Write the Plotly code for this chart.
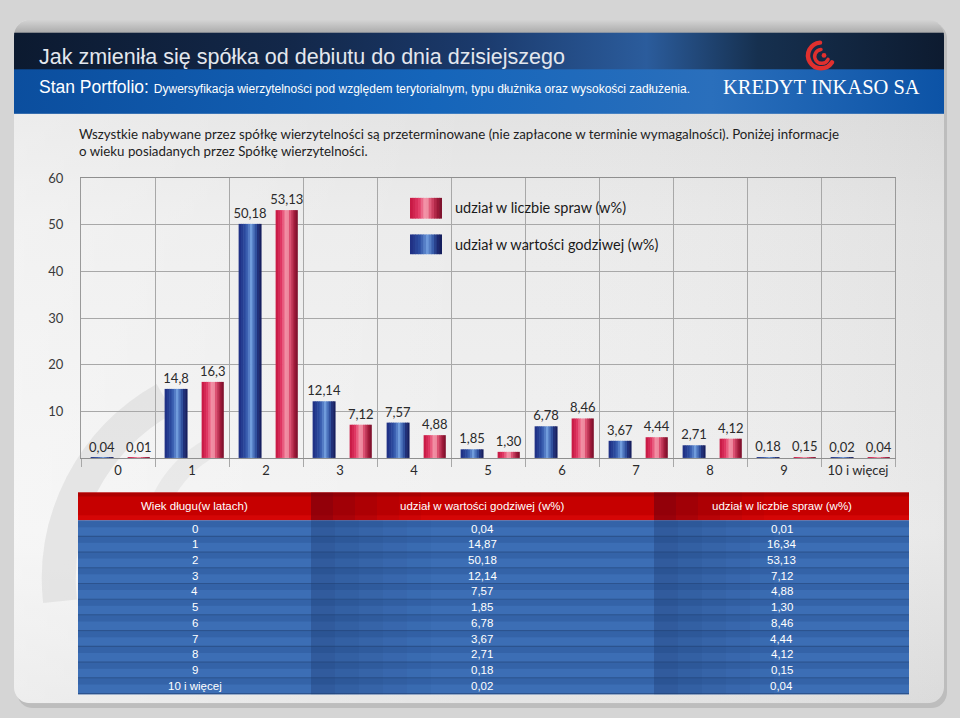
import base64
import plotly.graph_objects as go

# ---------------- data ----------------
categories = ["0", "1", "2", "3", "4", "5", "6", "7", "8", "9", "10 i więcej"]
value_share = [0.04, 14.8, 50.18, 12.14, 7.57, 1.85, 6.78, 3.67, 2.71, 0.18, 0.02]   # udział w wartości godziwej
count_share = [0.01, 16.3, 53.13, 7.12, 4.88, 1.30, 8.46, 4.44, 4.12, 0.15, 0.04]    # udział w liczbie spraw
value_labels = ["0,04", "14,8", "50,18", "12,14", "7,57", "1,85", "6,78", "3,67", "2,71", "0,18", "0,02"]
count_labels = ["0,01", "16,3", "53,13", "7,12", "4,88", "1,30", "8,46", "4,44", "4,12", "0,15", "0,04"]
y_ticks = [10, 20, 30, 40, 50, 60]

legend_names = ["udział w liczbie spraw (w%)", "udział w wartości godziwej (w%)"]

table_header = ["Wiek długu(w latach)", "udział w wartości godziwej (w%)", "udział w liczbie spraw (w%)"]
table_age = ["0", "1", "2", "3", "4", "5", "6", "7", "8", "9", "10 i więcej"]
table_value = ["0,04", "14,87", "50,18", "12,14", "7,57", "1,85", "6,78", "3,67", "2,71", "0,18", "0,02"]
table_count = ["0,01", "16,34", "53,13", "7,12", "4,88", "1,30", "8,46", "4,44", "4,12", "0,15", "0,04"]

title_text = "Jak zmieniła się spółka od debiutu do dnia dzisiejszego"
subtitle_lead = "Stan Portfolio:"
subtitle_rest = "Dywersyfikacja wierzytelności pod względem terytorialnym, typu dłużnika oraz wysokości zadłużenia."
intro_lines = ["Wszystkie nabywane przez spółkę wierzytelności są przeterminowane (nie zapłacone w terminie wymagalności). Poniżej informacje",
               "o wieku posiadanych przez Spółkę wierzytelności."]
brand = "KREDYT INKASO SA"

# ---------------- styling ----------------
W, H = 960, 718
NARROW = "Liberation Sans Narrow, Arial Narrow, Liberation Sans, sans-serif"
SANS = "Lato, Open Sans, sans-serif"


def px(x):
    return x / W


def py(y):
    return 1 - y / H


def hex2rgb(h):
    h = h.lstrip("#")
    return tuple(int(h[i:i + 2], 16) for i in (0, 2, 4))


def interp(stops, t):
    for (t0, c0), (t1, c1) in zip(stops[:-1], stops[1:]):
        if t0 <= t <= t1:
            f = 0 if t1 == t0 else (t - t0) / (t1 - t0)
            a, b = hex2rgb(c0), hex2rgb(c1)
            return "rgb(%d,%d,%d)" % tuple(round(a[i] + (b[i] - a[i]) * f) for i in range(3))
    return stops[-1][1]


blue_stops = [(0, "#1e2c80"), (0.3, "#2c4ea2"), (0.55, "#6f9bdc"), (0.72, "#3559a8"), (0.88, "#1b276e"), (1, "#121a55")]
red_stops = [(0, "#c4143f"), (0.28, "#e23a66"), (0.5, "#f7a7b6"), (0.66, "#d94a6c"), (0.85, "#a01a3a"), (1, "#74102a")]

# ---------------- background (svg) ----------------
svg = f'''<svg xmlns="http://www.w3.org/2000/svg" width="{W}" height="{H}" viewBox="0 0 {W} {H}" preserveAspectRatio="none">
<defs>
<linearGradient id="card" x1="0" y1="0" x2="0" y2="1">
<stop offset="0" stop-color="#dcdcdc"/><stop offset="0.3" stop-color="#ebebeb"/><stop offset="0.75" stop-color="#f2f2f2"/><stop offset="1" stop-color="#e4e4e4"/>
</linearGradient>
<linearGradient id="cardh" x1="0" y1="0" x2="1" y2="0">
<stop offset="0" stop-color="#ffffff" stop-opacity="0.35"/><stop offset="0.5" stop-color="#ffffff" stop-opacity="0"/><stop offset="1" stop-color="#000000" stop-opacity="0.04"/>
</linearGradient>
<linearGradient id="strip" x1="0" y1="0" x2="0" y2="1">
<stop offset="0" stop-color="#d4d4d4"/><stop offset="1" stop-color="#a8a8a8"/>
</linearGradient>
<linearGradient id="navy" x1="0" y1="0" x2="1" y2="0">
<stop offset="0" stop-color="#0c1a30"/><stop offset="0.3" stop-color="#13284a"/><stop offset="0.5" stop-color="#1b3a6c"/><stop offset="0.68" stop-color="#2b5c9c"/><stop offset="0.8" stop-color="#16304f"/><stop offset="1" stop-color="#0d1b30"/>
</linearGradient>
<linearGradient id="blue" x1="0" y1="0" x2="1" y2="0">
<stop offset="0" stop-color="#0b4e9e"/><stop offset="0.45" stop-color="#1565ba"/><stop offset="0.75" stop-color="#2a6fbc"/><stop offset="1" stop-color="#0c53a6"/>
</linearGradient>
<clipPath id="c"><rect x="14" y="12" width="930" height="691" rx="16"/></clipPath>
</defs>
<rect width="{W}" height="{H}" fill="#d5d5d5"/>
<rect x="17" y="15" width="930" height="693" rx="16" fill="#bdbdbd"/>
<g clip-path="url(#c)">
<rect x="14" y="12" width="930" height="691" fill="url(#card)"/>
<rect x="14" y="12" width="930" height="691" fill="url(#cardh)"/>
<path d="M 60 600 A 210 210 0 0 1 165 395" fill="none" stroke="#dadada" stroke-width="34" stroke-opacity="0.6"/>
<path d="M 150 560 A 120 120 0 0 1 220 440" fill="none" stroke="#dddddd" stroke-width="20" stroke-opacity="0.5"/>
<rect x="14" y="12" width="930" height="14" fill="url(#strip)"/>
<rect x="14" y="25" width="930" height="38" fill="url(#navy)"/>
<rect x="14" y="62" width="930" height="45" fill="url(#blue)"/>
</g>
<path d="M 820 35 A 13 13 0 1 0 832 55" fill="none" stroke="#e0302e" stroke-width="4.5" stroke-linecap="round"/>
<path d="M 821 42 A 7 7 0 1 0 828 52" fill="none" stroke="#e0302e" stroke-width="3.5" stroke-linecap="round"/>
<circle cx="824" cy="48" r="2.4" fill="#e0302e"/>
</svg>'''
svg_uri = "data:image/svg+xml;base64," + base64.b64encode(svg.encode("utf-8")).decode("ascii")

fig = go.Figure()

# ---------------- bars (cylindrical look via strips) ----------------
N = 10
series = [
    (value_share, value_labels, -0.37, 0.31, blue_stops),
    (count_share, count_labels, 0.13, 0.30, red_stops),
]
for vals, labels, off, wid, stops in series:
    sw = wid / N
    for i in range(N):
        t = (i + 0.5) / N
        fig.add_trace(go.Bar(
            x=categories, y=vals, offset=off + i * sw, width=sw * (1.25 if i < N - 1 else 1.0),
            marker=dict(color=interp(stops, t), line=dict(width=0)),
            hoverinfo="skip", showlegend=False,
        ))
    fig.add_trace(go.Bar(
        x=categories, y=vals, offset=off, width=wid,
        marker=dict(color="rgba(0,0,0,0)", line=dict(width=0)),
        text=labels, textposition="outside", constraintext="none", cliponaxis=False,
        textfont=dict(family=SANS, size=13, color="#2a2a2a"),
        hoverinfo="skip", showlegend=False,
    ))

shapes = []
annotations = []

# ---------------- table (shapes + text) ----------------
col_edges = [78, 311, 654, 909]
head_top, head_bot = 490, 518
row_top0, row_h = 519, 15.9
n_rows = len(table_age)
body_bot = row_top0 + n_rows * row_h


def rect(x0, y0, x1, y1, color, opacity=1.0, layer="above"):
    shapes.append(dict(type="rect", xref="paper", yref="paper", x0=px(x0), x1=px(x1), y0=py(y1), y1=py(y0),
                       fillcolor=color, opacity=opacity, line=dict(width=0), layer=layer))


# header
rect(col_edges[0], head_top, col_edges[-1], head_bot, "#c60000")
rect(col_edges[0], head_top, col_edges[-1], head_top + 4, "#a80000", 0.8)
rect(col_edges[0], head_bot - 5, col_edges[-1], head_bot, "#d80808", 0.8)
for ce in col_edges[1:-1]:
    for s, op in enumerate([0.55, 0.4, 0.27, 0.15, 0.06]):
        rect(ce + s * 22, head_top, ce + (s + 1) * 22, head_bot, "#6a0010", op)
# body
rect(col_edges[0], head_bot, col_edges[-1], body_bot, "#3c6eb5")
for r in range(n_rows):
    top = row_top0 + r * row_h
    rect(col_edges[0], top, col_edges[-1], top + 6, "#2d5b9c", 0.55)
    rect(col_edges[0], top + row_h - 1.2, col_edges[-1], top + row_h, "#2a5089", 0.9)
for ce in col_edges[1:-1]:
    for s, op in enumerate([0.35, 0.26, 0.18, 0.11, 0.05]):
        rect(ce + s * 24, head_bot, ce + (s + 1) * 24, body_bot, "#1c3a70", op)

for c in range(3):
    cx = (col_edges[c] + col_edges[c + 1]) / 2
    annotations.append(dict(text=table_header[c], xref="paper", yref="paper", x=px(cx), y=py(504),
                            xanchor="center", yanchor="middle", showarrow=False,
                            font=dict(family=NARROW, size=11.5, color="white")))
for r in range(n_rows):
    cy = row_top0 + r * row_h + row_h / 2 - 0.5
    for c, col in enumerate([table_age, table_value, table_count]):
        cx = (col_edges[c] + col_edges[c + 1]) / 2
        annotations.append(dict(text=col[r], xref="paper", yref="paper", x=px(cx), y=py(cy),
                                xanchor="center", yanchor="middle", showarrow=False,
                                font=dict(family=NARROW, size=11.5, color="white")))

# ---------------- legend (custom) ----------------
for k, stops in enumerate([red_stops, blue_stops]):
    y0, y1 = (192, 213) if k == 0 else (229, 249)
    x0, x1 = 410, 442
    M = 12
    for i in range(M):
        t = (i + 0.5) / M
        xa = x0 + (x1 - x0) * i / M
        xb = x0 + (x1 - x0) * (i + 1) / M + (0.6 if i < M - 1 else 0)
        rect(xa, y0, xb, y1, interp(stops, t))

for k, name in enumerate(legend_names):
    annotations.append(dict(text=name, xref="paper", yref="paper", x=px(453), y=py(202 if k == 0 else 239),
                            xanchor="left", yanchor="middle", showarrow=False,
                            font=dict(family=SANS, size=14.5, color="#1a1a1a")))

# header texts
annotations.append(dict(text=title_text, xref="paper", yref="paper", x=px(37), y=py(50), xanchor="left", yanchor="middle",
                        showarrow=False, font=dict(family=NARROW, size=21.5, color="#e3e7ee")))
annotations.append(dict(text=subtitle_lead + " <span style='font-size:12px'>" + subtitle_rest + "</span>",
                        xref="paper", yref="paper", x=px(37), y=py(80), xanchor="left", yanchor="middle",
                        showarrow=False, font=dict(family=NARROW, size=17.5, color="#ffffff")))
annotations.append(dict(text=brand, xref="paper", yref="paper", x=px(922), y=py(80), xanchor="right", yanchor="middle",
                        showarrow=False, font=dict(family="Liberation Serif, DejaVu Serif, serif", size=20.5, color="#ffffff")))
for j, line in enumerate(intro_lines):
    annotations.append(dict(text=line, xref="paper", yref="paper", x=px(77), y=py(127 + 18 * j), xanchor="left",
                            yanchor="middle", showarrow=False, font=dict(family=SANS, size=13.3, color="#1e1e1e")))

fig.update_layout(
    width=W, height=H, margin=dict(l=0, r=0, t=0, b=0),
    paper_bgcolor="#d5d5d5", plot_bgcolor="rgba(0,0,0,0)",
    barmode="overlay", showlegend=False,
    images=[dict(source=svg_uri, xref="paper", yref="paper", x=0, y=1, sizex=1, sizey=1,
                 sizing="stretch", xanchor="left", yanchor="top", layer="below")],
    xaxis=dict(domain=[px(81), px(895)], type="category", tickson="boundaries",
               showgrid=True, gridcolor="#a8a8a8", gridwidth=1,
               ticks="outside", ticklen=8, tickcolor="#a8a8a8",
               showline=True, linecolor="#8f8f8f", mirror=True,
               tickfont=dict(family=SANS, size=13, color="#2a2a2a")),
    yaxis=dict(domain=[py(455), py(172)], range=[0, 60], tickvals=y_ticks,
               showgrid=True, gridcolor="#a8a8a8", gridwidth=1, zeroline=False,
               showline=True, linecolor="#9a9a9a", mirror=True,
               ticks="", ticklabelstandoff=14,
               tickfont=dict(family=SANS, size=13, color="#3a3a3a")),
    shapes=shapes, annotations=annotations,
    font=dict(family=SANS),
)

fig.write_html("out.html", config=dict(displayModeBar=False),
               post_script="document.body.style.margin='0';document.body.style.overflow='hidden';")
